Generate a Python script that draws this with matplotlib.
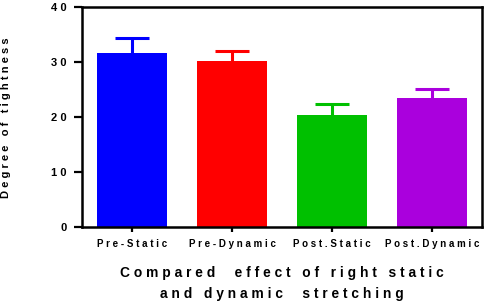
import matplotlib
matplotlib.use("Agg")
import matplotlib.pyplot as plt

plt.rcParams['font.family'] = ['Liberation Sans', 'DejaVu Sans']

groups = ["Pre-Static", "Pre-Dynamic", "Post.Static", "Post.Dynamic"]
means = [31.8, 30.3, 20.5, 23.5]
errs = [2.7, 1.7, 2.0, 1.7]
colors = ["#0000FF", "#FF0000", "#00C000", "#AA00DD"]
yticks = [0, 10, 20, 30, 40]
xlabel = "Compared  effect of right static\nand dynamic  stretching"
ylabel = "Degree of tightness"


def spaced(s):
    # fake letter spacing like the original graph
    return "\n".join(" ".join(line) for line in s.split("\n"))


fig = plt.figure(figsize=(4.89, 3.06), dpi=100)
ax = fig.add_axes([0.1677, 0.2572, 0.818, 0.7183])

x = range(len(groups))
ax.bar(x, means, width=0.7, color=colors, zorder=2)
for i, (m, e, c) in enumerate(zip(means, errs, colors)):
    eb = ax.errorbar(i, m, yerr=[[0], [e]], color=c, capsize=12, capthick=2.2,
                     elinewidth=2.2, zorder=1)
    # only keep the upper cap
    for cl in eb[1]:
        if abs(cl.get_ydata()[0] - m) < 1e-6:
            cl.set_visible(False)

ax.set_xlim(-0.5, 3.5)
ax.set_ylim(0, 40)
ax.set_yticks(yticks)
ax.set_yticklabels([spaced(str(t)) for t in yticks], fontsize=8, fontweight="bold")
ax.set_xticks(list(x))
ax.set_xticklabels([spaced(g) for g in groups], fontsize=7, fontweight="bold")
ax.tick_params(axis="y", length=6, width=1.6, pad=5)
ax.tick_params(axis="x", length=3.5, width=1.6, pad=5)

for s in ["left", "bottom"]:
    ax.spines[s].set_linewidth(1.8)
for s in ["top", "right"]:
    ax.spines[s].set_visible(True)
    ax.spines[s].set_edgecolor("#000000")
    ax.spines[s].set_linewidth(1.8)
    ax.spines[s].set_zorder(6)

ax.set_xlabel(spaced(xlabel), fontsize=9.9, fontweight="bold", linespacing=1.65, labelpad=12)
ax.set_ylabel(spaced(ylabel), fontsize=8, fontweight="bold")
ax.yaxis.set_label_coords(-0.178, 0.5)

fig.savefig("out.png", dpi=100, facecolor="white")
